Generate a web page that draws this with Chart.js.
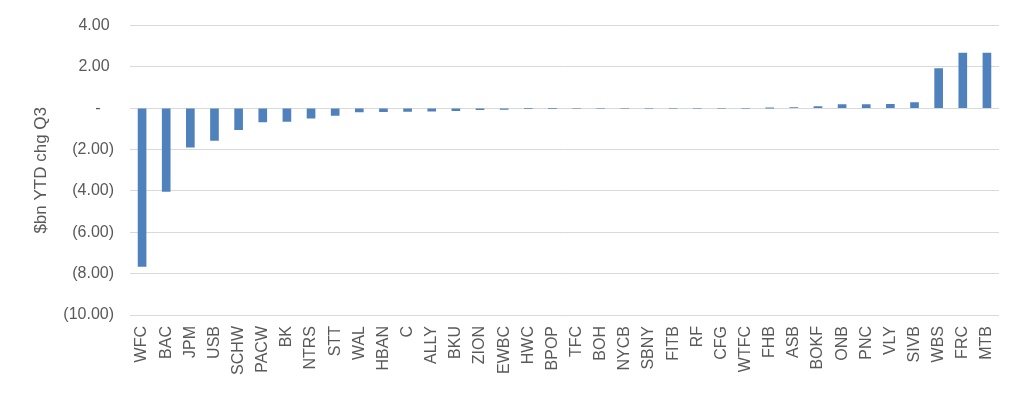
<!DOCTYPE html>
<html>
<head>
<meta charset="utf-8">
<script src="https://cdn.jsdelivr.net/npm/chart.js@4"></script>
<style>
  html, body { margin: 0; padding: 0; background: #fff; }
  #wrap { width: 1024px; height: 393px; }
</style>
</head>
<body>
<div id="wrap"><canvas id="chart" width="1024" height="393"></canvas></div>
<script>
const banks = ['WFC','BAC','JPM','USB','SCHW','PACW','BK','NTRS','STT','WAL','HBAN','C','ALLY','BKU','ZION','EWBC','HWC','BPOP','TFC','BOH','NYCB','SBNY','FITB','RF','CFG','WTFC','FHB','ASB','BOKF','ONB','PNC','VLY','SIVB','WBS','FRC','MTB'];
const ytdChange = [-7.65,-4.02,-1.88,-1.56,-1.03,-0.66,-0.64,-0.48,-0.35,-0.17,-0.16,-0.15,-0.14,-0.12,-0.07,-0.06,-0.02,-0.01,0,0,0,0,0,0,0,0,0.01,0.03,0.08,0.18,0.18,0.19,0.27,1.92,2.67,2.67];
const yMin = -10, yMax = 4, yStep = 2;
const axisTitle = '$bn YTD chg Q3';

const grey = '#595959';
const fontFamily = '"Liberation Sans", Arial, sans-serif';

// accounting style: 2.00 / (2.00) / -
function fmtTick(v) {
    if (Math.abs(v) < 1e-9) return '-   ';
    if (v < 0) return '(' + Math.abs(v).toFixed(2) + ')';
    return v.toFixed(2) + ' ';
}

new Chart(document.getElementById('chart').getContext('2d'), {
    type: 'bar',
    data: {
        labels: banks,
        datasets: [{
            data: ytdChange,
            backgroundColor: '#4f81bd',
            borderWidth: 0,
            barThickness: 8
        }]
    },
    options: {
        responsive: false,
        animation: false,
        layout: { padding: { left: 31, right: 25, top: 24, bottom: 0 } },
        plugins: { legend: { display: false }, tooltip: { enabled: false } },
        scales: {
            x: {
                grid: { display: false },
                border: { display: false },
                ticks: {
                    color: grey,
                    font: { family: fontFamily, size: 16 },
                    minRotation: 90,
                    maxRotation: 90,
                    autoSkip: false,
                    padding: 3
                },
                afterFit: s => { s.height = 78; }
            },
            y: {
                min: yMin,
                max: yMax,
                grid: { color: '#d9d9d9', lineWidth: 1, drawTicks: false },
                border: { display: false },
                ticks: {
                    stepSize: yStep,
                    color: grey,
                    font: { family: fontFamily, size: 16 },
                    padding: 16,
                    callback: v => fmtTick(v)
                },
                title: {
                    display: true,
                    text: axisTitle,
                    color: grey,
                    font: { family: fontFamily, size: 17 },
                    padding: { top: 0, bottom: 0 }
                },
                afterFit: s => { s.width = 99; }
            }
        }
    }
});
</script>
</body>
</html>
